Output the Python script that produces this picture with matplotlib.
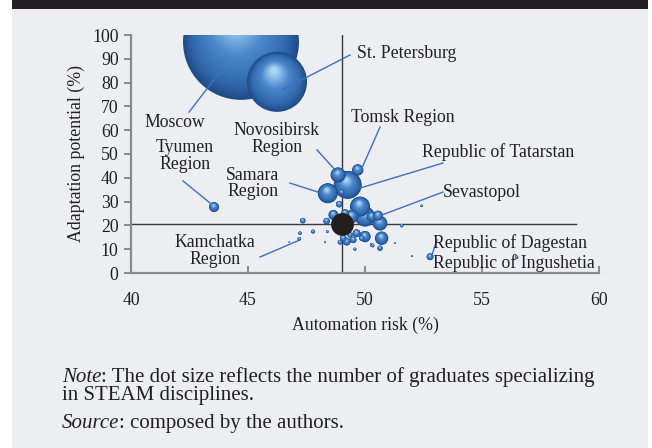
import numpy as np
import matplotlib
matplotlib.use("Agg")
import matplotlib.pyplot as plt
from matplotlib.colors import LinearSegmentedColormap
from matplotlib.transforms import IdentityTransform
from matplotlib.patches import Rectangle

# ---------------- data ----------------
automation_risk = [44.70, 46.24, 49.26, 48.85, 49.69, 48.41, 49.79, 50.00, 50.64, 50.71,
                   50.00, 48.65, 48.36, 47.34, 47.78, 47.22, 47.19, 49.22, 49.50, 49.64,
                   50.64, 50.33, 49.57, 51.57, 49.00, 48.90, 49.15, 49.36, 50.29, 49.43,
                   52.42, 52.00, 52.78, 56.48, 43.55, 48.39, 51.28, 46.77, 48.29, 49.07,
                   50.29, 49.86, 48.93, 50.56]
adaptation_potential = [97.1, 80.3, 37.0, 41.2, 43.3, 33.5, 27.9, 23.7, 20.9, 14.6,
                        15.3, 24.4, 21.8, 22.0, 17.4, 16.7, 14.4, 13.2, 13.9, 16.7,
                        10.4, 11.5, 10.0, 19.9, 33.9, 28.9, 25.1, 16.0, 23.7, 23.7,
                        28.2, 7.1, 6.8, 6.6, 27.7, 17.4, 12.5, 12.9, 12.9, 14.6,
                        11.8, 14.6, 12.9, 24.1]
steam_graduates = [112, 30, 6.5, 1.9, 1.08, 3.3, 3.3, 3.3, 1.8, 1.5,
                   1.07, 0.83, 0.36, 0.26, 0.13, 0.10, 0.10, 0.53, 0.36, 0.53,
                   0.24, 0.10, 0.075, 0.10, 0.24, 0.36, 0.53, 0.24, 0.83, 1.5,
                   0.05, 0.03, 0.40, 0.10, 0.83, 0.06, 0.02, 0.02, 0.03, 0.36,
                   0.12, 0.24, 0.18, 0.83]
mean_risk = 49.0
mean_potential = 20.5

x_ticks = [40, 45, 50, 55, 60]
y_ticks = [0, 10, 20, 30, 40, 50, 60, 70, 80, 90, 100]

labels = ["St. Petersburg", "Moscow", "Novosibirsk\nRegion", "Tomsk Region",
          "Republic of Tatarstan", "Sevastopol", "Republic of Dagestan",
          "Republic of Ingushetia", "Tyumen\nRegion", "Samara\nRegion", "Kamchatka\nRegion"]

# ---------------- layout ----------------
W, H, DPI = 652, 448, 100
SERIF = ["Liberation Serif", "DejaVu Serif"]
TXT = "#231f20"
BG = "#edeef2"
FS = 12.8
plt.rcParams["font.family"] = SERIF

fig = plt.figure(figsize=(W / DPI, H / DPI), dpi=DPI, facecolor="white")
fig.patches.append(Rectangle((12 / W, 0), 636 / W, 1 - 9 / H, transform=fig.transFigure,
                             facecolor=BG, edgecolor="none", zorder=-10))
fig.patches.append(Rectangle((12 / W, 1 - 9 / H), 636 / W, 9 / H, transform=fig.transFigure,
                             facecolor=TXT, edgecolor="none", zorder=-10))

ax = fig.add_axes([131 / W, 1 - 273 / H, 468 / W, 238 / H])
ax.set_facecolor("none")
ax.set_xlim(40, 60)
ax.set_ylim(0, 100)
ax.set_autoscale_on(False)

for sp in ["top", "right"]:
    ax.spines[sp].set_visible(False)
for sp in ["left", "bottom"]:
    ax.spines[sp].set_color("#8a8a8a")
    ax.spines[sp].set_linewidth(1.6)
ax.set_xticks(x_ticks)
ax.set_yticks(y_ticks)
ax.tick_params(axis="x", direction="in", length=5, width=1.4, color="#8a8a8a",
               labelsize=FS, labelcolor=TXT, pad=14)
ax.tick_params(axis="y", direction="out", length=5, width=1.4, color="#8a8a8a",
               labelsize=FS, labelcolor=TXT, pad=4)
ax.set_xlabel("Automation risk (%)", fontsize=FS, color=TXT, labelpad=5)
ax.set_ylabel("Adaptation potential (%)", fontsize=FS, color=TXT, labelpad=5)

# quadrant lines
ax.axvline(mean_risk, color="#3a3a3a", lw=1.0, zorder=1)
ax.plot([40, 59.0], [mean_potential, mean_potential], color="#3a3a3a", lw=1.0, zorder=1,
        clip_on=False)

# ---------------- shaded bubbles ----------------
cmap = LinearSegmentedColormap.from_list(
    "ball", [(0.0, "#1f4c86"), (0.2, "#3168ad"), (0.6, "#4c88cc"), (1.0, "#a9d5f4")])
SIZE_K = 62.2
fig.canvas.draw()


def bubble(x, y, s, z):
    r_px = np.sqrt(s) / 2 * DPI / 72
    cx, cy = ax.transData.transform((x, y))
    n = 40 if r_px > 8 else 16
    t = np.linspace(0, 1, n)
    f = 1 - 0.9 * t
    ox = cx + (1 - f) * r_px * (-0.12)
    oy = cy + (1 - f) * r_px * (0.42)
    ax.scatter(ox, oy, s=s * f ** 2, c=cmap(t), transform=IdentityTransform(),
               linewidths=0, zorder=z)


order = np.argsort(steam_graduates)[::-1]
for k, i in enumerate(order):
    bubble(automation_risk[i], adaptation_potential[i], steam_graduates[i] * SIZE_K, 3 + k * 0.01)

ax.scatter([mean_risk], [mean_potential], s=270, color="#231f20", zorder=5, linewidths=0)

# ---------------- labels ----------------
LC = "#3d6fc2"
label_pos = [(49.66, 92.4, "left"), (41.88, 63.4, "center"), (46.24, 56.3, "center"),
             (51.62, 65.5, "center"), (52.44, 50.8, "left"), (53.33, 34.0, "left"),
             (52.90, 12.6, "left"), (52.90, 4.2, "left"), (42.31, 49.2, "center"),
             (45.21, 37.6, "center"), (43.59, 9.2, "center")]
for lab, (lx, ly, ha) in zip(labels, label_pos):
    ax.text(lx, ly, lab, ha=ha, va="center", fontsize=FS, color=TXT, zorder=6,
            linespacing=0.95)

leaders = [((49.36, 91.6), (46.45, 76.9)), ((42.48, 67.6), (43.80, 84.5)),
           ((47.95, 51.7), (48.76, 42.9)), ((50.64, 61.3), (49.87, 44.1)),
           ((53.33, 46.2), (49.79, 35.7)), ((53.33, 34.0), (50.73, 24.4)),
           ((53.08, 13.9), (52.86, 7.6)), ((42.22, 38.7), (43.38, 29.4)),
           ((46.79, 37.8), (47.99, 34.0)), ((45.51, 6.7), (47.22, 13.9))]
for (a, b) in leaders:
    ax.plot([a[0], b[0]], [a[1], b[1]], color=LC, lw=1.0, zorder=4.5)

# ---------------- note ----------------
NFS = 15.0
fig.canvas.draw()
r = fig.canvas.get_renderer()


def rich(xpx, ypx, parts):
    x = xpx
    for txt, style in parts:
        t = fig.text(x / W, 1 - ypx / H, txt, fontsize=NFS, style=style, color=TXT,
                     va="center", ha="left")
        bb = t.get_window_extent(renderer=r)
        x += bb.width


rich(62, 377, [("Note", "italic"), (": The dot size reflects the number of graduates specializing", "normal")])
rich(62, 395, [("in STEAM disciplines.", "normal")])
rich(62, 423, [("Source", "italic"), (": composed by the authors.", "normal")])

fig.savefig("out.png", dpi=DPI, facecolor="white")
